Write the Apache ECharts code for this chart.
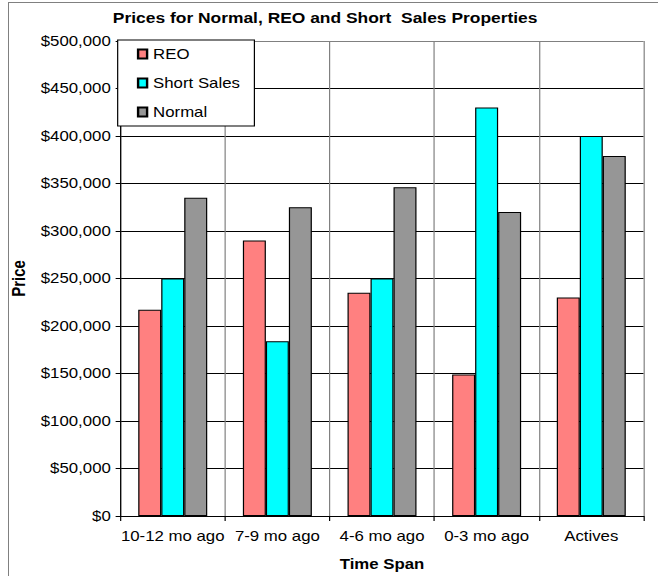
<!DOCTYPE html>
<html>
<head>
<meta charset="utf-8">
<script src="https://cdn.jsdelivr.net/npm/echarts@6/dist/echarts.min.js"></script>
<style>
  html, body { margin: 0; padding: 0; background: #fff; overflow: hidden; }
  #wrap { position: relative; width: 658px; height: 576px; overflow: hidden; }
  #chart { position: absolute; left: 0; top: 0; width: 548px; height: 576px;
           transform: scaleX(1.20073); transform-origin: 0 0; }
  #frame { position: absolute; left: 8px; top: 2px; width: 700px; height: 700px;
           border-left: 1px solid #808080; border-top: 1px solid #808080; pointer-events: none; }
</style>
</head>
<body>
<div id="wrap">
  <div id="chart"></div>
  <div id="frame"></div>
</div>
<script>
// ---- data ----
const categories = ['10-12 mo ago', '7-9 mo ago', '4-6 mo ago', '0-3 mo ago', 'Actives'];
const reo        = [217000, 290000, 235000, 149000, 230000];
const shortSales = [250000, 184000, 250000, 430000, 400000];
const normal     = [335000, 325000, 346000, 320000, 379000];
const seriesNames = ['REO', 'Short Sales', 'Normal'];
const yTicksMax = 500000;
const yTickStep = 50000;

const FONT = 'Liberation Sans, Arial, sans-serif';
const chart = echarts.init(document.getElementById('chart'), null, { renderer: 'svg' });

const splitColors = [];
for (let i = 0; i < 10; i++) splitColors.push('#000000');
splitColors.push('#808080');

const barW = 23 / 1.20073;

function money(v) {
  return '$' + String(v).replace(/\B(?=(\d{3})+(?!\d))/g, ',');
}

chart.setOption({
  animation: false,
  backgroundColor: 'transparent',
  textStyle: { fontFamily: FONT },
  title: {
    text: 'Prices for Normal, REO and Short  Sales Properties',
    left: 94, top: 10, padding: 0,
    textStyle: { fontFamily: FONT, fontSize: 14.5, fontWeight: 'bold', color: '#000' }
  },
  legend: {
    orient: 'vertical',
    left: 98, top: 40,
    padding: [7, 12, 7, 16],
    itemWidth: 7.5, itemHeight: 9, itemGap: 15,
    backgroundColor: '#ffffff',
    borderColor: '#000000', borderWidth: 1,
    icon: 'rect',
    textStyle: { fontFamily: FONT, fontSize: 14, color: '#000' },
    data: seriesNames,
    z: 10
  },
  grid: { left: 98, right: 12, top: 41, bottom: 55, containLabel: false },
  xAxis: {
    type: 'category',
    data: categories,
    boundaryGap: true,
    name: 'Time Span',
    nameLocation: 'middle',
    nameGap: 41,
    nameTextStyle: { fontFamily: FONT, fontSize: 14, fontWeight: 'bold', color: '#000' },
    axisLine: { show: true, lineStyle: { color: '#000', width: 1 } },
    axisTick: { show: true, length: 5, lineStyle: { color: '#000' } },
    axisLabel: { fontFamily: FONT, fontSize: 14, color: '#000', margin: 13, interval: 0 },
    splitLine: { show: true, lineStyle: { color: '#808080', width: 1 } }
  },
  yAxis: {
    type: 'value',
    min: 0, max: yTicksMax, interval: yTickStep,
    name: 'Price',
    nameLocation: 'middle',
    nameRotate: 90,
    nameGap: 67,
    nameTextStyle: { fontFamily: FONT, fontSize: 15, fontWeight: 'bold', color: '#000' },
    axisLine: { show: true, lineStyle: { color: '#000', width: 1 } },
    axisTick: { show: true, length: 4, lineStyle: { color: '#000' } },
    axisLabel: { fontFamily: FONT, fontSize: 14, color: '#000', margin: 8, formatter: money },
    splitLine: { show: true, lineStyle: { color: splitColors, width: 1 } }
  },
  series: [
    { name: seriesNames[0], type: 'bar', data: reo, barWidth: barW, barGap: '0%',
      itemStyle: { color: '#FF8080', borderColor: '#000', borderWidth: 1 } },
    { name: seriesNames[1], type: 'bar', data: shortSales, barWidth: barW, barGap: '0%',
      itemStyle: { color: '#00FFFF', borderColor: '#000', borderWidth: 1 } },
    { name: seriesNames[2], type: 'bar', data: normal, barWidth: barW, barGap: '0%',
      itemStyle: { color: '#969696', borderColor: '#000', borderWidth: 1 } }
  ]
});
</script>
</body>
</html>
